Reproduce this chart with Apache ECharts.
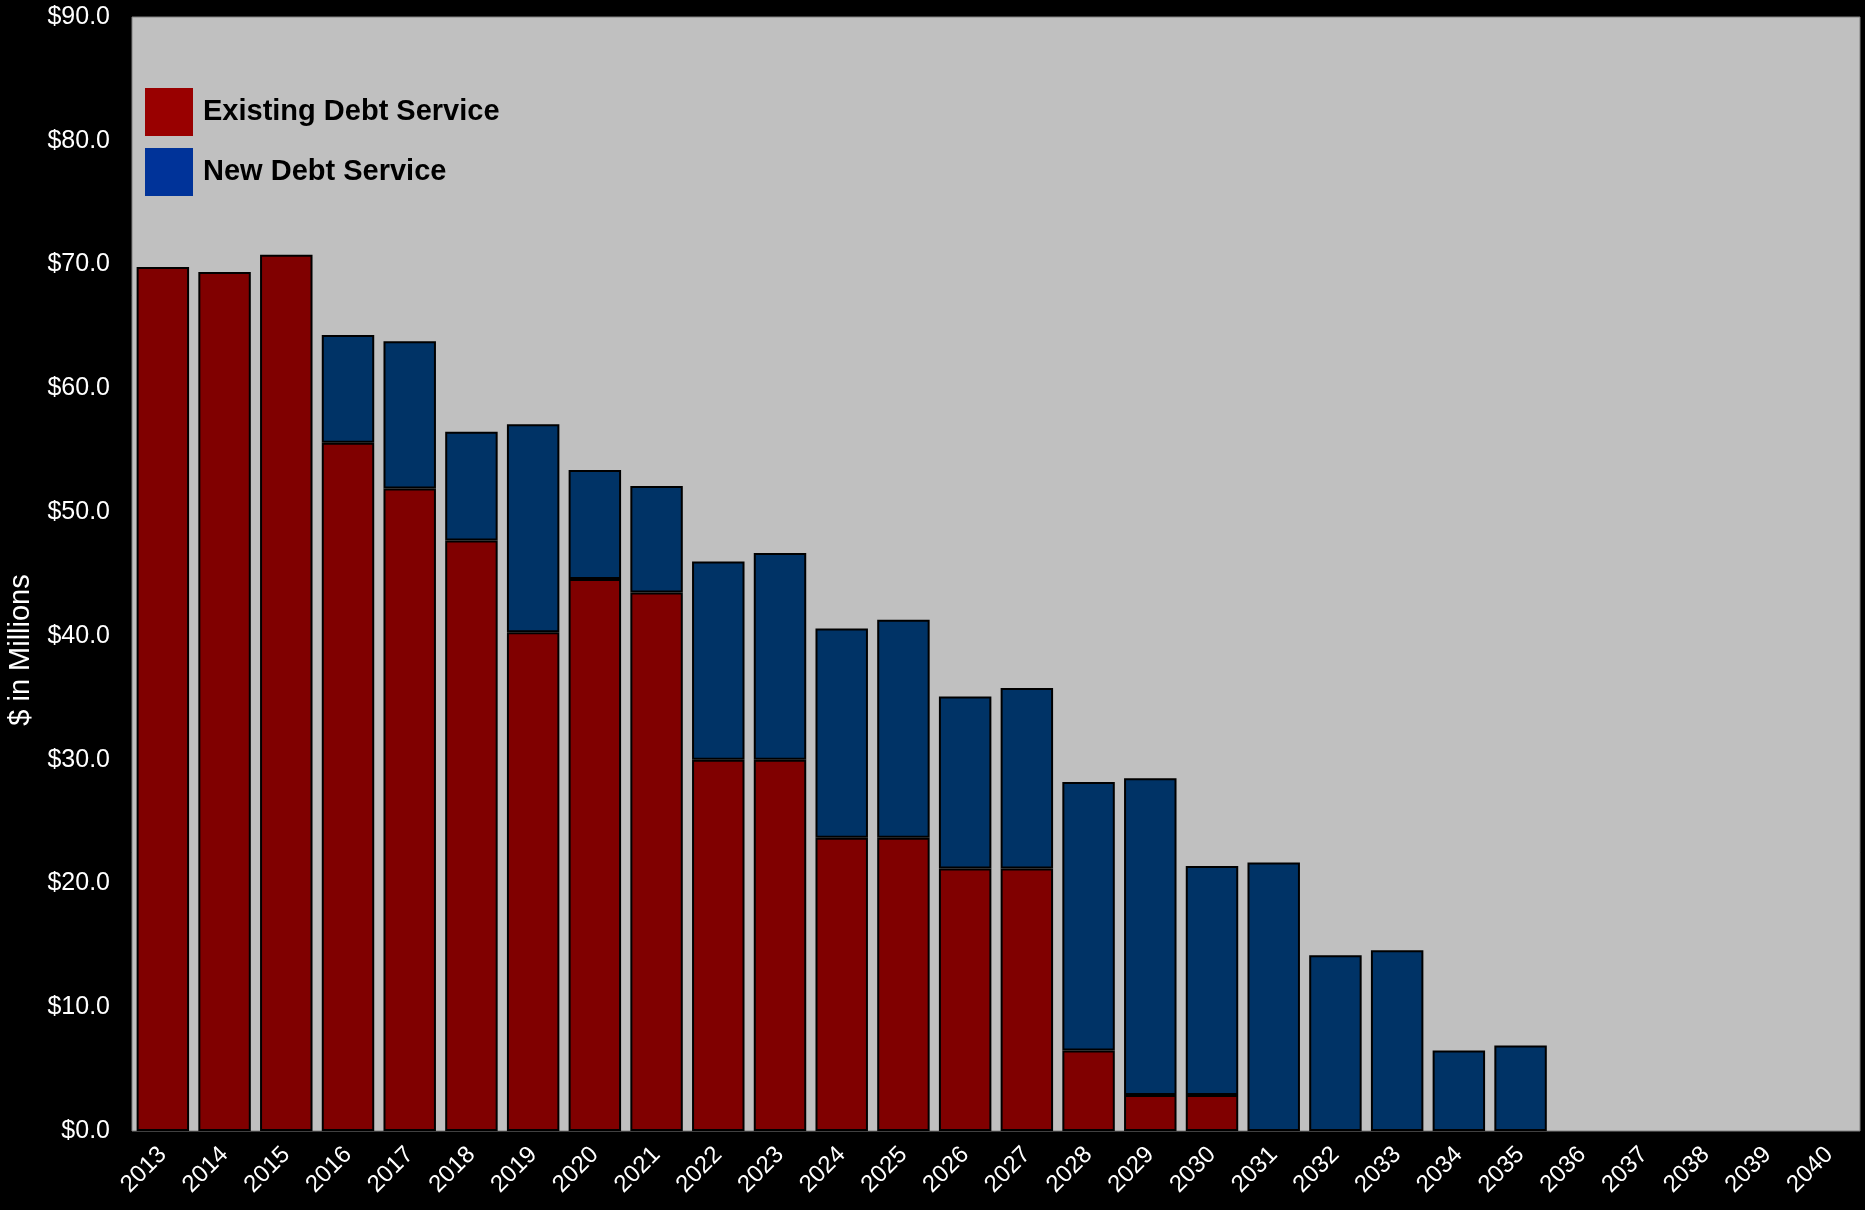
<!DOCTYPE html>
<html>
<head>
<meta charset="utf-8">
<script src="https://cdn.jsdelivr.net/npm/echarts@6/dist/echarts.min.js"></script>
<style>
html,body{margin:0;padding:0;background:#000;}
#chart{width:1865px;height:1210px;}
</style>
</head>
<body>
<div id="chart"></div>
<script>
const years = ['2013','2014','2015','2016','2017','2018','2019','2020','2021','2022','2023','2024','2025','2026','2027','2028','2029','2030','2031','2032','2033','2034','2035','2036','2037','2038','2039','2040'];
const existingDebt = [69.8,69.4,70.8,55.6,51.9,47.7,40.3,44.6,43.5,30.0,30.0,23.7,23.7,21.2,21.2,6.5,2.9,2.9,0,0,0,0,0,0,0,0,0,0];
const newDebt = [0,0,0,8.7,11.9,8.8,16.8,8.8,8.6,16.0,16.7,16.9,17.6,13.9,14.6,21.7,25.6,18.5,21.7,14.2,14.6,6.5,6.9,0,0,0,0,0];
const yTicks = { min: 0, max: 90, interval: 10 };

const chart = echarts.init(document.getElementById('chart'));
const font = 'Liberation Sans, Arial, sans-serif';
const nz = arr => arr.map(v => (v === 0 ? null : v));
chart.setOption({
  backgroundColor: '#000',
  animation: false,
  grid: {
    left: 132, right: 5, top: 17, bottom: 79,
    show: true, backgroundColor: '#c0c0c0', borderColor: '#808080', borderWidth: 1
  },
  legend: {
    orient: 'vertical', left: 145, top: 88, padding: 0,
    itemWidth: 48, itemHeight: 48, itemGap: 12,
    icon: 'rect',
    textStyle: { color: '#000', fontSize: 29, fontWeight: 'bold', fontFamily: font, padding: [0,0,0,5] },
    data: [
      { name: 'Existing Debt Service', itemStyle: { color: '#990000', borderWidth: 0 } },
      { name: 'New Debt Service', itemStyle: { color: '#003399', borderWidth: 0 } }
    ]
  },
  xAxis: {
    type: 'category', data: years,
    axisLine: { show: false }, axisTick: { show: false },
    axisLabel: { color: '#fff', fontSize: 24, fontFamily: font, rotate: 45, margin: 20, interval: 0 }
  },
  yAxis: {
    type: 'value', min: yTicks.min, max: yTicks.max, interval: yTicks.interval,
    splitLine: { show: false }, axisLine: { show: false }, axisTick: { show: false },
    axisLabel: { color: '#fff', fontSize: 25, fontFamily: font, margin: 22,
      formatter: v => '$' + v.toFixed(1) }
  },
  graphic: [{
    type: 'text', x: 21, y: 650, rotation: Math.PI / 2,
    style: { text: '$ in Millions', fill: '#fff', fontSize: 29, fontFamily: font,
      align: 'center', verticalAlign: 'middle' }
  }],
  series: [
    { name: 'Existing Debt Service', type: 'bar', stack: 'debt', data: nz(existingDebt),
      barCategoryGap: '15%',
      itemStyle: { color: '#800000', borderColor: '#000', borderWidth: 2 } },
    { name: 'New Debt Service', type: 'bar', stack: 'debt', data: nz(newDebt),
      barCategoryGap: '15%',
      itemStyle: { color: '#003366', borderColor: '#000', borderWidth: 2 } }
  ]
});
</script>
</body>
</html>
